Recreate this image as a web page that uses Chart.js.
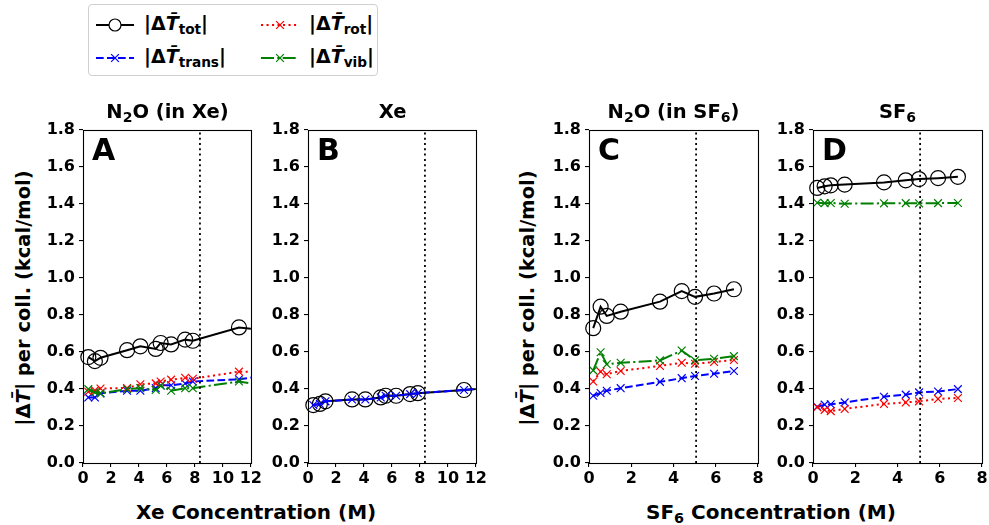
<!DOCTYPE html>
<html><head><meta charset="utf-8">
<script src="https://cdn.jsdelivr.net/npm/chart.js@4"></script>
<style>
html,body{margin:0;padding:0}
body{width:989px;height:525px;background:#fff;position:relative;overflow:hidden;font-family:"DejaVu Sans",sans-serif;color:#000}
canvas.cv{position:absolute}
.t{position:absolute;white-space:nowrap;font-weight:bold;line-height:1}
sub{font-size:0.72em;vertical-align:-0.28em;line-height:0}
.ttl{font-size:19.5px;text-align:center;width:169px}
.let{font-size:30px}
.ax{font-size:20px}
.yl{font-size:19.5px;width:337px;height:24px;line-height:24px;text-align:center;transform:rotate(-90deg)}
#legend{position:absolute;left:88px;top:4px;width:290px;height:72px;border:1px solid #d0d0d0;border-radius:4px;box-sizing:border-box}
.lg{position:absolute;font-size:19px;font-weight:bold;line-height:1}
svg.ls{position:absolute}
</style>
</head><body>
<div id="legend"></div>
<canvas class="cv" id="cA" width="226" height="377"></canvas>
<canvas class="cv" id="cB" width="226" height="377"></canvas>
<canvas class="cv" id="cC" width="226" height="377"></canvas>
<canvas class="cv" id="cD" width="226" height="377"></canvas>
<script>
// ---------------- data ----------------
const yTickValues = [0,0.2,0.4,0.6,0.8,1.0,1.2,1.4,1.6,1.8];
const xTicksXe = [0,2,4,6,8,10,12];
const xTicksSF6 = [0,2,4,6,8];

// Xe concentration (M) (last point lies beyond the axis limit)
const concXe = [0.38,0.85,1.25,3.15,4.1,5.2,5.55,6.3,7.3,7.85,11.15,14];
// Panel A: N2O in Xe
const aTot   = [0.572,0.550,0.568,0.609,0.630,0.616,0.648,0.640,0.666,0.660,0.732,0.709];
const aTrans = [0.354,0.354,0.376,0.390,0.390,0.404,0.420,0.420,0.429,0.440,0.452,0.482];
const aRot   = [0.385,0.392,0.402,0.405,0.425,0.430,0.440,0.450,0.460,0.455,0.493,0.493];
const aVib   = [0.399,0.381,0.376,0.399,0.404,0.394,0.417,0.390,0.404,0.404,0.440,0.403];
// Panel B: Xe
const bTot   = [0.313,0.319,0.333,0.343,0.343,0.354,0.363,0.363,0.372,0.377,0.394,0.414];
const bTrans = [0.313,0.319,0.333,0.343,0.343,0.354,0.363,0.363,0.372,0.377,0.394,0.414];

// SF6 concentration (M)
const concSF6 = [0.2,0.55,0.84,1.5,3.36,4.39,5.02,5.92,6.86];
// Panel C: N2O in SF6
const cTot   = [0.728,0.844,0.794,0.817,0.871,0.928,0.897,0.915,0.938];
const cTrans = [0.363,0.378,0.390,0.404,0.438,0.458,0.470,0.482,0.497];
const cRot   = [0.440,0.493,0.479,0.497,0.524,0.541,0.536,0.545,0.556];
const cVib   = [0.500,0.598,0.533,0.541,0.554,0.607,0.554,0.563,0.577];
// Panel D: SF6
const dTot   = [1.485,1.494,1.499,1.503,1.515,1.526,1.533,1.538,1.545];
const dTrans = [0.304,0.315,0.317,0.327,0.358,0.369,0.381,0.386,0.399];
const dRot   = [0.301,0.287,0.280,0.292,0.319,0.327,0.333,0.346,0.351];
const dVib   = [1.405,1.403,1.404,1.400,1.402,1.403,1.402,1.403,1.404];

// vertical dotted reference lines (M)
const dividerXe = 8.36;
const dividerSF6 = 5.07;

// ---------------- layout ----------------
const PW = 169, PH = 337, PTOP = 126, YW = 45, XH = 30, PADT = 10, PADR = 12;
const panels = [
  {id:'cA', left:83,  conc:concXe,  tot:aTot, trans:aTrans, rot:aRot, vib:aVib, xmax:12, xt:xTicksXe, div:dividerXe,
   title:'N<sub>2</sub>O (in Xe)', letter:'A'},
  {id:'cB', left:308, conc:concXe,  tot:bTot, trans:bTrans, rot:null, vib:null, xmax:12, xt:xTicksXe, div:dividerXe,
   title:'Xe', letter:'B'},
  {id:'cC', left:589, conc:concSF6, tot:cTot, trans:cTrans, rot:cRot, vib:cVib, xmax:8, xt:xTicksSF6, div:dividerSF6,
   title:'N<sub>2</sub>O (in SF<sub>6</sub>)', letter:'C'},
  {id:'cD', left:813, conc:concSF6, tot:dTot, trans:dTrans, rot:dRot, vib:dVib, xmax:8, xt:xTicksSF6, div:dividerSF6,
   title:'SF<sub>6</sub>', letter:'D'}
];

const STY = {
  tot:   {color:'#000000', dash:[], style:'circle', r:7.5},
  trans: {color:'#0000ff', dash:[7.7,3.3], style:'crossRot', r:5.5},
  rot:   {color:'#ff0000', dash:[2.1,3.4], style:'crossRot', r:5.5},
  vib:   {color:'#008000', dash:[13,3.3,2.1,3.3], style:'crossRot', r:5.5}
};

Chart.defaults.font.family = "'DejaVu Sans', sans-serif";
Chart.defaults.font.weight = 'bold';
Chart.defaults.color = '#000';

const framePlugin = {
  id:'frame',
  afterDraw(chart){
    const a = chart.chartArea, ctx = chart.ctx;
    ctx.save();
    ctx.strokeStyle = '#000';
    ctx.lineWidth = 1.1;
    ctx.strokeRect(Math.round(a.left)+0.5, Math.round(a.top)+0.5, Math.round(a.right-a.left), Math.round(a.bottom-a.top));
    ctx.restore();
  }
};

function ds(key, conc, vals, order){
  const s = STY[key];
  return {
    label:key, data: conc.map((c,i)=>({x:c, y:vals[i]})),
    borderColor:s.color, backgroundColor:'rgba(0,0,0,0)', borderWidth:2, borderDash:s.dash,
    pointStyle:s.style, pointRadius:s.r, pointHoverRadius:s.r, pointBorderColor:s.color,
    pointBackgroundColor:'rgba(0,0,0,0)', pointBorderWidth:1.2, tension:0, order:order,
    clip:{left:10, top:10, right:0, bottom:10}
  };
}

panels.forEach(p=>{
  const cv = document.getElementById(p.id);
  cv.style.left = (p.left - YW) + 'px';
  cv.style.top = (PTOP - PADT) + 'px';
  cv.width = YW + PW + PADR; cv.height = PADT + PH + XH;
  const datasets = [ds('tot', p.conc, p.tot, 4), ds('trans', p.conc, p.trans, 3)];
  if (p.rot) datasets.push(ds('rot', p.conc, p.rot, 2));
  if (p.vib) datasets.push(ds('vib', p.conc, p.vib, 1));
  datasets.push({label:'div', data:[{x:p.div,y:0},{x:p.div,y:1.8}], borderColor:'#000', borderWidth:1.8,
    borderDash:[2,3.3], pointRadius:0, order:0});
  new Chart(cv, {
    type:'line',
    data:{datasets},
    options:{
      responsive:false, animation:false, devicePixelRatio:1,
      layout:{padding:{left:0, top:PADT, right:PADR, bottom:0}},
      plugins:{legend:{display:false}, tooltip:{enabled:false}},
      scales:{
        x:{type:'linear', min:0, max:p.xmax,
           afterBuildTicks:s=>{s.ticks = p.xt.map(v=>({value:v}));},
           afterFit:s=>{s.height = XH;},
           ticks:{font:{size:16, weight:'bold'}, color:'#000', padding:2, maxRotation:0, autoSkip:false,
                  callback:v=>String(v)},
           grid:{display:true, drawOnChartArea:false, drawTicks:true, tickLength:4, color:'#000', lineWidth:1.1},
           border:{display:false}},
        y:{type:'linear', min:0, max:1.8,
           afterBuildTicks:s=>{s.ticks = yTickValues.map(v=>({value:v}));},
           afterFit:s=>{s.width = YW;},
           ticks:{font:{size:16, weight:'bold'}, color:'#000', padding:4, autoSkip:false,
                  callback:v=>Number(v).toFixed(1)},
           grid:{display:true, drawOnChartArea:false, drawTicks:true, tickLength:4, color:'#000', lineWidth:1.1},
           border:{display:false}}
      }
    },
    plugins:[framePlugin]
  });
  const t = document.createElement('div');
  t.className='t ttl'; t.innerHTML = p.title;
  t.style.left = p.left+'px'; t.style.top = '102px';
  document.body.appendChild(t);
  const l = document.createElement('div');
  l.className='t let'; l.textContent = p.letter;
  l.style.left = (p.left+9)+'px'; l.style.top = '135px';
  document.body.appendChild(l);
});

function addText(html, cls, left, top){
  const d = document.createElement('div');
  d.className = 't ' + cls; d.innerHTML = html;
  d.style.left = left+'px'; d.style.top = top+'px';
  document.body.appendChild(d);
  return d;
}
const yLabel = '|Δ<i>T&#772;</i>| per coll. (kcal/mol)';
addText(yLabel, 'yl', 23-168.5, 298-12);
addText(yLabel, 'yl', 527-168.5, 298-12);
const xa = addText('Xe Concentration (M)', 'ax', 0, 502);
const xb = addText('SF<sub>6</sub> Concentration (M)', 'ax', 0, 502);
xa.style.left = (256 - xa.offsetWidth/2)+'px';
xb.style.left = (771 - xb.offsetWidth/2)+'px';

// legend
const legendItems = [
  {key:'tot',   label:'|Δ<i>T&#772;</i><sub>tot</sub>|',   col:0, row:0},
  {key:'trans', label:'|Δ<i>T&#772;</i><sub>trans</sub>|', col:0, row:1},
  {key:'rot',   label:'|Δ<i>T&#772;</i><sub>rot</sub>|',   col:1, row:0},
  {key:'vib',   label:'|Δ<i>T&#772;</i><sub>vib</sub>|',   col:1, row:1}
];
const lg = document.getElementById('legend');
legendItems.forEach(it=>{
  const s = STY[it.key];
  const lx = it.col ? 172 : 7, cy = it.row ? 53 : 20;
  const ns = 'http://www.w3.org/2000/svg';
  const svg = document.createElementNS(ns,'svg');
  svg.setAttribute('class','ls'); svg.setAttribute('width','38'); svg.setAttribute('height','18');
  svg.style.left = lx+'px'; svg.style.top = (cy-9)+'px';
  const ln = document.createElementNS(ns,'line');
  ln.setAttribute('x1','0'); ln.setAttribute('x2','38'); ln.setAttribute('y1','9'); ln.setAttribute('y2','9');
  ln.setAttribute('stroke', s.color); ln.setAttribute('stroke-width','2');
  if (s.dash.length) ln.setAttribute('stroke-dasharray', s.dash.join(' '));
  svg.appendChild(ln);
  if (s.style==='circle'){
    const c = document.createElementNS(ns,'circle');
    c.setAttribute('cx','19'); c.setAttribute('cy','9'); c.setAttribute('r','6');
    c.setAttribute('fill','#fff'); c.setAttribute('stroke',s.color); c.setAttribute('stroke-width','1.2');
    svg.appendChild(c);
  } else {
    const r = 3.9;
    [[19-r,9-r,19+r,9+r],[19-r,9+r,19+r,9-r]].forEach(q=>{
      const m = document.createElementNS(ns,'line');
      m.setAttribute('x1',q[0]); m.setAttribute('y1',q[1]); m.setAttribute('x2',q[2]); m.setAttribute('y2',q[3]);
      m.setAttribute('stroke',s.color); m.setAttribute('stroke-width','1.2');
      svg.appendChild(m);
    });
  }
  lg.appendChild(svg);
  const tx = document.createElement('div');
  tx.className='lg'; tx.innerHTML = it.label;
  tx.style.left = (lx+48)+'px'; tx.style.top = (cy-11)+'px';
  lg.appendChild(tx);
});
</script>
</body></html>
